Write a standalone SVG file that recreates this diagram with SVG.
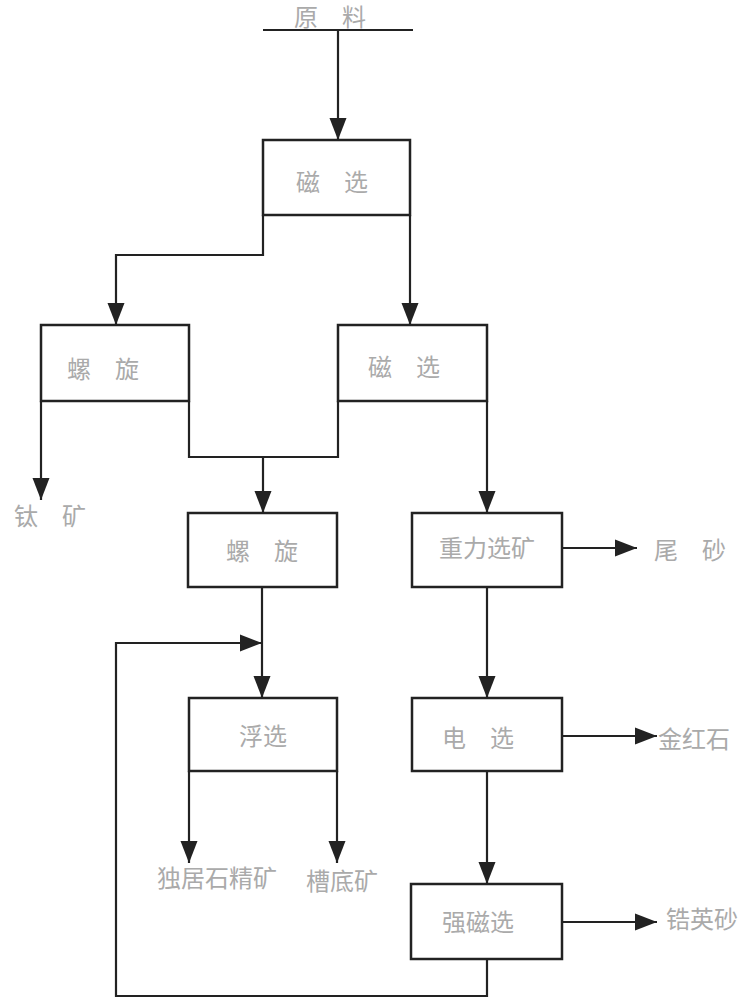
<svg xmlns="http://www.w3.org/2000/svg" width="744" height="1000" viewBox="0 0 744 1000">
<style>
.box{fill:#fff;stroke:#222;stroke-width:2.5}
.ln{fill:none;stroke:#222;stroke-width:2.2}
.t{font-family:"Liberation Sans","Noto Sans CJK SC",sans-serif;font-size:24px;fill:#aaa;text-anchor:middle}
</style>
<defs>
<marker id="ar" markerUnits="userSpaceOnUse" markerWidth="22" markerHeight="20" viewBox="0 0 22 20" refX="22" refY="10" orient="auto">
<path d="M0,1.5 L22,10 L0,18.5 z" fill="#222"/>
</marker>
</defs>
<g id="connectors">
<path class="ln" d="M263,30 H413"/>
<path class="ln" d="M338,30 V140" marker-end="url(#ar)"/>
<path class="ln" d="M263,215 V255 H116 V325" marker-end="url(#ar)"/>
<path class="ln" d="M410,215 V325" marker-end="url(#ar)"/>
<path class="ln" d="M41,401 V500" marker-end="url(#ar)"/>
<path class="ln" d="M189,401 V457 H338 V401"/>
<path class="ln" d="M263,457 V513" marker-end="url(#ar)"/>
<path class="ln" d="M487,401 V513" marker-end="url(#ar)"/>
<path class="ln" d="M562,548 H637" marker-end="url(#ar)"/>
<path class="ln" d="M262,587 V698" marker-end="url(#ar)"/>
<path class="ln" d="M487,587 V698" marker-end="url(#ar)"/>
<path class="ln" d="M562,736 H657" marker-end="url(#ar)"/>
<path class="ln" d="M189,771 V863" marker-end="url(#ar)"/>
<path class="ln" d="M337,771 V863" marker-end="url(#ar)"/>
<path class="ln" d="M487,771 V884" marker-end="url(#ar)"/>
<path class="ln" d="M562,922 H657" marker-end="url(#ar)"/>
<path class="ln" d="M487,959 V996 H116 V643 H262" marker-end="url(#ar)"/>
</g>
<g id="raw"><text class="t" x="330" y="26">原　料</text></g>
<g id="mag1"><rect class="box" x="263" y="140" width="147" height="75"/><text class="t" x="332" y="191">磁　选</text></g>
<g id="spiral1"><rect class="box" x="41" y="325" width="148" height="76"/><text class="t" x="103" y="378">螺　旋</text></g>
<g id="mag2"><rect class="box" x="338" y="325" width="149" height="76"/><text class="t" x="404" y="376">磁　选</text></g>
<g id="ti"><text class="t" x="50" y="525">钛　矿</text></g>
<g id="spiral2"><rect class="box" x="188" y="513" width="149" height="74"/><text class="t" x="262" y="560">螺　旋</text></g>
<g id="gravity"><rect class="box" x="412" y="513" width="150" height="74"/><text class="t" x="487" y="557">重力选矿</text></g>
<g id="tail"><text class="t" x="690" y="559">尾　砂</text></g>
<g id="float"><rect class="box" x="189" y="698" width="148" height="73"/><text class="t" x="263" y="745">浮选</text></g>
<g id="elec"><rect class="box" x="412" y="698" width="150" height="73"/><text class="t" x="478" y="747">电　选</text></g>
<g id="rutile"><text class="t" x="694" y="748">金红石</text></g>
<g id="monazite"><text class="t" x="217" y="887">独居石精矿</text></g>
<g id="trough"><text class="t" x="342" y="890">槽底矿</text></g>
<g id="strong"><rect class="box" x="411" y="884" width="151" height="75"/><text class="t" x="478" y="931">强磁选</text></g>
<g id="zircon"><text class="t" x="702" y="928">锆英砂</text></g>
</svg>
